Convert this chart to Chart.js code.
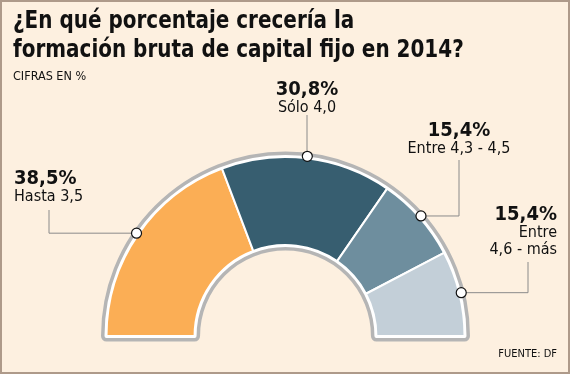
<!DOCTYPE html>
<html>
<head>
<meta charset="utf-8">
<script src="https://cdn.jsdelivr.net/npm/chart.js@4.4.1/dist/chart.umd.min.js"></script>
<style>
  html, body { margin: 0; padding: 0; }
  body { width: 570px; height: 374px; overflow: hidden; }
  #frame {
    position: relative; width: 566px; height: 370px;
    background: #fdf0e0; border: 2px solid #ae9a8a;
    font-family: "DejaVu Sans Condensed", "DejaVu Sans", sans-serif; color: #111;
  }
  #chart { position: absolute; left: -2px; top: -2px; }
  .title { position: absolute; left: 11px; top: 4px; font-size: 24px; font-weight: bold; line-height: 29px;
           white-space: nowrap; transform: scaleX(0.925); transform-origin: left top; }
  .sub { position: absolute; left: 11px; top: 66px; font-size: 12.5px; }
  .src { position: absolute; right: 11px; top: 345px; font-size: 11px; }
  .lbl { position: absolute; font-size: 16px; line-height: 17px; white-space: nowrap; }
  .lbl b { display: block; font-size: 20px; line-height: 20px; }
</style>
</head>
<body>
<div id="frame">
  <canvas id="chart" width="570" height="374"></canvas>
  <div class="title">¿En qué porcentaje crecería la<br>formación bruta de capital fijo en 2014?</div>
  <div class="sub">CIFRAS EN %</div>
  <div class="lbl" style="left:12px; top:165px;"><b>38,5%</b>Hasta 3,5</div>
  <div class="lbl" style="left:205px; top:76px; width:200px; text-align:center;"><b>30,8%</b>Sólo 4,0</div>
  <div class="lbl" style="left:357px; top:117px; width:200px; text-align:center;"><b>15,4%</b>Entre 4,3 - 4,5</div>
  <div class="lbl" style="right:11px; top:201px; text-align:right;"><b>15,4%</b>Entre<br>4,6 - más</div>
  <div class="src">FUENTE: DF</div>
</div>
<script>
// Survey answers
const categories = ['Hasta 3,5', 'Sólo 4,0', 'Entre 4,3 - 4,5', 'Entre 4,6 - más'];
const shares = [38.5, 30.8, 15.4, 15.4];
const sliceColors = ['#fbae55', '#375e70', '#6e8e9e', '#c3cfd8'];

// leader line bends: [x, y] of the end near the text, for each slice
const leaderEnds = [[49, 210], [307, 115], [459, 160], [528, 262]];

// Gray + white outline round the half ring, and the label dots
const ringDecor = {
  id: 'ringDecor',
  beforeDatasetsDraw(chart) {
    const arcs = chart.getDatasetMeta(0).data;
    if (!arcs.length) return;
    const { x, y, outerRadius, innerRadius } = arcs[0];
    const ctx = chart.ctx;
    const shape = () => {
      ctx.beginPath();
      ctx.arc(x, y, outerRadius, Math.PI, 2 * Math.PI);
      ctx.lineTo(x + innerRadius, y);
      ctx.arc(x, y, innerRadius, 0, Math.PI, true);
      ctx.closePath();
    };
    ctx.save();
    ctx.lineJoin = 'round';
    shape();
    ctx.strokeStyle = '#b5b5b5';
    ctx.lineWidth = 11;
    ctx.stroke();
    shape();
    ctx.strokeStyle = '#ffffff';
    ctx.lineWidth = 4;
    ctx.stroke();
    ctx.restore();
  },
  afterDatasetsDraw(chart) {
    const arcs = chart.getDatasetMeta(0).data;
    const ctx = chart.ctx;
    ctx.save();
    arcs.forEach((arc, i) => {
      const mid = (arc.startAngle + arc.endAngle) / 2;
      const r = arc.outerRadius + 2;
      const px = arc.x + Math.cos(mid) * r;
      const py = arc.y + Math.sin(mid) * r;
      const [lx, ly] = leaderEnds[i];
      ctx.beginPath();
      ctx.moveTo(lx, ly);
      ctx.lineTo(lx, py);
      ctx.lineTo(px, py);
      ctx.strokeStyle = '#8a8a8a';
      ctx.lineWidth = 1;
      ctx.stroke();
      ctx.beginPath();
      ctx.arc(px, py, 5, 0, 2 * Math.PI);
      ctx.fillStyle = '#ffffff';
      ctx.fill();
      ctx.strokeStyle = '#111111';
      ctx.lineWidth = 1.2;
      ctx.stroke();
    });
    ctx.restore();
  }
};

new Chart(document.getElementById('chart'), {
  type: 'doughnut',
  data: {
    labels: categories,
    datasets: [{
      data: shares,
      backgroundColor: sliceColors,
      borderColor: '#ffffff',
      borderWidth: 2
    }]
  },
  options: {
    responsive: false,
    animation: false,
    rotation: -90,
    circumference: 180,
    cutout: '50.8%',
    layout: { padding: { left: 104.5, right: 103.5, top: 156, bottom: 37 } },
    plugins: {
      legend: { display: false },
      tooltip: { enabled: false }
    }
  },
  plugins: [ringDecor]
});
</script>
</body>
</html>
